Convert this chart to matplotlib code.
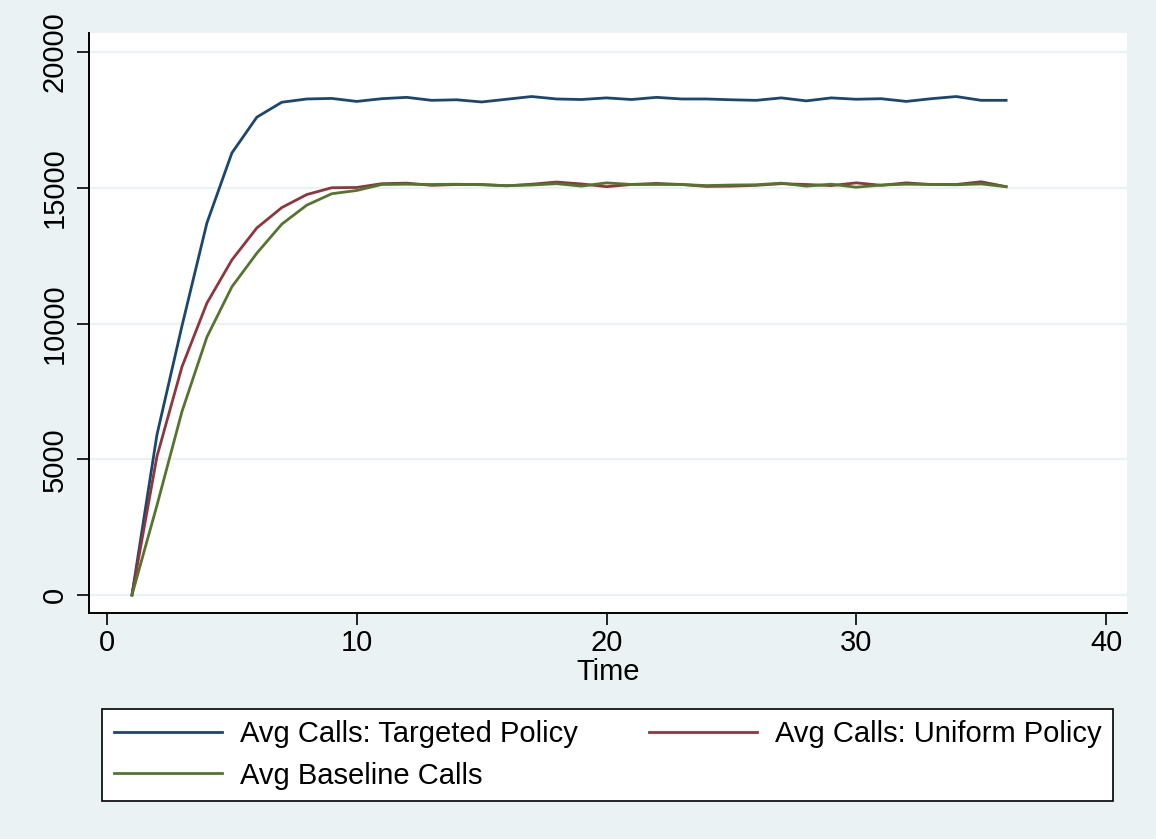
#! python3
import numpy as np
import matplotlib
matplotlib.use("Agg")
from matplotlib import pyplot as plt

#Data
time = list(range(1, 37))
targeted = [0, 5900, 9900, 13700, 16280, 17600, 18150, 18270, 18290, 18180,
            18280, 18330, 18220, 18240, 18160, 18260, 18360, 18270, 18250, 18310,
            18250, 18330, 18270, 18270, 18240, 18220, 18310, 18200, 18310, 18260,
            18280, 18180, 18280, 18360, 18220, 18220]
uniform = [0, 5100, 8400, 10750, 12340, 13520, 14270, 14750, 15000, 15010,
           15150, 15170, 15090, 15120, 15120, 15070, 15130, 15210, 15140, 15040,
           15120, 15160, 15120, 15050, 15060, 15090, 15150, 15120, 15080, 15180,
           15090, 15180, 15120, 15120, 15220, 15040]
baseline = [0, 3300, 6750, 9500, 11350, 12590, 13660, 14360, 14780, 14900,
            15120, 15130, 15120, 15130, 15110, 15080, 15100, 15150, 15060, 15180,
            15120, 15120, 15120, 15080, 15100, 15110, 15170, 15060, 15130, 15020,
            15100, 15130, 15120, 15110, 15140, 15040]

labels = ("Avg Calls: Targeted Policy", "Avg Calls: Uniform Policy", "Avg Baseline Calls")
colors = ("#1A476F", "#90353B", "#55752F")

plt.rcParams['font.family'] = ['Liberation Sans', 'DejaVu Sans']
bg = "#EAF2F3"
fs = 21

fig = plt.figure(figsize=(11.56, 8.39), dpi=100, facecolor=bg)
ax = fig.add_axes([89/1156, 1-613/839, (1127-89)/1156, (613-33)/839])
ax.set_facecolor("white")

lines = []
for series, lab, col in zip((targeted, uniform, baseline), labels, colors):
    l, = ax.plot(time, series, color=col, lw=2.0, label=lab, solid_joinstyle='round')
    lines.append(l)

ax.set_xlim(-0.72, 40.84)
ax.set_ylim(-663, 20700)
ax.set_xticks([0, 10, 20, 30, 40])
ax.set_yticks([0, 5000, 10000, 15000, 20000])
ax.set_yticklabels(["0", "5000", "10000", "15000", "20000"], rotation=90, va='center')
ax.tick_params(axis='both', direction='out', length=8.6, width=1.2, labelsize=fs)
ax.tick_params(axis='x', pad=3)
ax.tick_params(axis='y', pad=6)
ax.grid(axis='y', color=bg, lw=1.6)
ax.set_axisbelow(True)
ax.set_xlabel("Time", fontsize=fs, labelpad=1)

for s in ("top", "right"):
    ax.spines[s].set_visible(False)
for s in ("left", "bottom"):
    ax.spines[s].set_linewidth(1.4)

#order so that rows read: targeted, uniform / baseline
order = [0, 2, 1]
leg = fig.legend(handles=[lines[i] for i in order], labels=[labels[i] for i in order],
                 ncol=2, loc='center',
                 bbox_to_anchor=(102/1156, 1-802/839, (1113-102)/1156, (802-708)/839),
                 mode='expand', fontsize=fs, frameon=True, fancybox=False,
                 edgecolor='black', facecolor='white', framealpha=1,
                 handlelength=3.7, handletextpad=0.62, borderpad=0.4,
                 labelspacing=0.45, borderaxespad=0)
leg.get_frame().set_linewidth(1.2)

fig.savefig("out.png", dpi=100, facecolor=bg)
